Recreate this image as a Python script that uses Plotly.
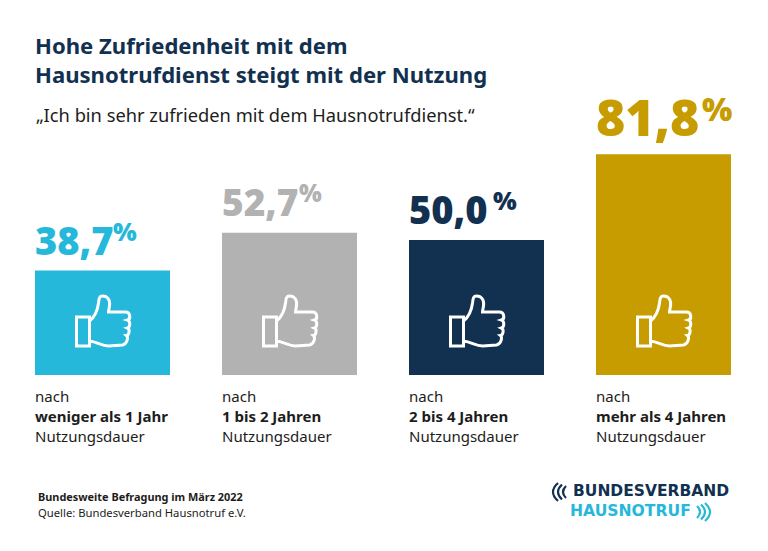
"""
Hausnotruf: Zufriedenheit nach Nutzungsdauer, Balkendiagramm mit Plotly.
"""

import plotly.graph_objects as go

# Daten
categories = ["weniger als 1 Jahr", "1 bis 2 Jahren", "2 bis 4 Jahren", "mehr als 4 Jahren"]
values = [38.7, 52.7, 50.0, 81.8]
value_labels = ["38,7", "52,7", "50,0", "81,8"]
colors = ["#25b8da", "#b2b2b2", "#12304f", "#c69c00"]

# Stil der Wertebeschriftung
label_sizes = [38, 37, 38, 50]
pct_sizes = [25, 24, 25, 32]
pct_offsets = [76, 75, 82, 104]

NAVY = "#12304f"
BLUE = "#25b8da"
W, H = 768, 551
FONT = "Noto Sans"


def px(x):
    return x / W


def py(y):
    return 1 - y / H


def text(x, y, s, size, color="#1d1d1b", weight=400, family=FONT):
    fig.add_annotation(
        xref="paper", yref="paper", x=px(x), y=py(y), text=s, showarrow=False,
        xanchor="left", yanchor="middle", align="left",
        font=dict(family=family, size=size, color=color, weight=weight),
    )


# Daumen hoch, Pixel relativ zum Fuss des Balkens
THUMB = (
    "M -26 58 L -13 58 L -13 29 L -26 29 Z "
    "M -13 54 C -8 58 -5 64 -4 72 C -3.5 77 -3 79 0 79 "
    "C 5 79 8 75 7 69 C 6.5 66 6 64 6 63 L 23 63 "
    "C 28 63 28.5 56 25 55 C 28 54 28 48 25 47 C 27.5 46 27 40 24 39.5 "
    "C 26 38 25 31 20 30 L 6 29 C -1 29 -5 33 -13 34"
)

fig = go.Figure()
fig.add_trace(go.Bar(x=list(range(len(categories))), y=values, marker=dict(color=colors, line_width=0),
                     width=135 / 187, hoverinfo="skip"))

fig.update_layout(
    width=W, height=H, autosize=False, showlegend=False,
    margin=dict(l=0, r=0, t=0, b=0),
    paper_bgcolor="white", plot_bgcolor="white",
    xaxis=dict(domain=[px(9), px(757)], range=[-0.5, 3.5], visible=False),
    yaxis=dict(domain=[py(375), py(105)], range=[0, 100], visible=False),
)

for i, cat in enumerate(categories):
    fig.add_shape(type="path", path=THUMB, xref="x", yref="y", xsizemode="pixel", ysizemode="pixel",
                  xanchor=i, yanchor=0, line=dict(color="white", width=3), layer="above")
    # Wert ueber dem Balken
    fig.add_annotation(
        xref="x", yref="y", x=i, y=values[i], xshift=-70, yshift=31 if i < 3 else 37, showarrow=False,
        xanchor="left", yanchor="middle", align="left", text=value_labels[i],
        font=dict(family="Open Sans", size=label_sizes[i], color=colors[i], weight=800),
    )
    fig.add_annotation(
        xref="x", yref="y", x=i, y=values[i], xshift=-67.5 + pct_offsets[i], yshift=40 if i < 3 else 46,
        showarrow=False, xanchor="left", yanchor="middle", text="%",
        font=dict(family="Open Sans", size=pct_sizes[i], color=colors[i], weight=800),
    )
    # Beschriftung unter dem Balken
    left = 35 + 187 * i
    text(left - 2, 396, "nach", 15)
    text(left - 2, 416, cat, 15, weight=700)
    text(left - 2, 436, "Nutzungsdauer", 15)

text(33, 45, "Hohe Zufriedenheit mit dem", 22.1, NAVY, 700)
text(33, 74, "Hausnotrufdienst steigt mit der Nutzung", 22.1, NAVY, 700)
text(34, 115, "„Ich bin sehr zufrieden mit dem Hausnotrufdienst.“", 18.3)
text(36, 496, "Bundesweite Befragung im März 2022", 10.9, weight=700)
text(36, 512, "Quelle: Bundesverband Hausnotruf e.V.", 11.25)

# Logo
text(571, 491, "BUNDESVERBAND", 15.5, NAVY, 700, "DejaVu Sans")
text(568, 511, "HAUSNOTRUF", 15.6, BLUE, 700, "DejaVu Sans")
for x0, bulge, half, y0 in [(558, -5, 9, 492), (562, -4, 7.5, 492), (566, -3, 6, 492)]:
    fig.add_shape(type="path", xref="paper", yref="paper",
                  path=f"M {px(x0)} {py(y0 - half)} Q {px(x0 + 2 * bulge)} {py(y0)} {px(x0)} {py(y0 + half)}",
                  line=dict(color=NAVY, width=2.2))
for x0, bulge, half, y0 in [(697, 3, 6, 512), (701, 4, 7.5, 512), (705, 5, 9, 512)]:
    fig.add_shape(type="path", xref="paper", yref="paper",
                  path=f"M {px(x0)} {py(y0 - half)} Q {px(x0 + 2 * bulge)} {py(y0)} {px(x0)} {py(y0 + half)}",
                  line=dict(color=BLUE, width=2.2))

fig.write_html("out.html", post_script="document.body.style.margin = '0';", config={"displayModeBar": False})
